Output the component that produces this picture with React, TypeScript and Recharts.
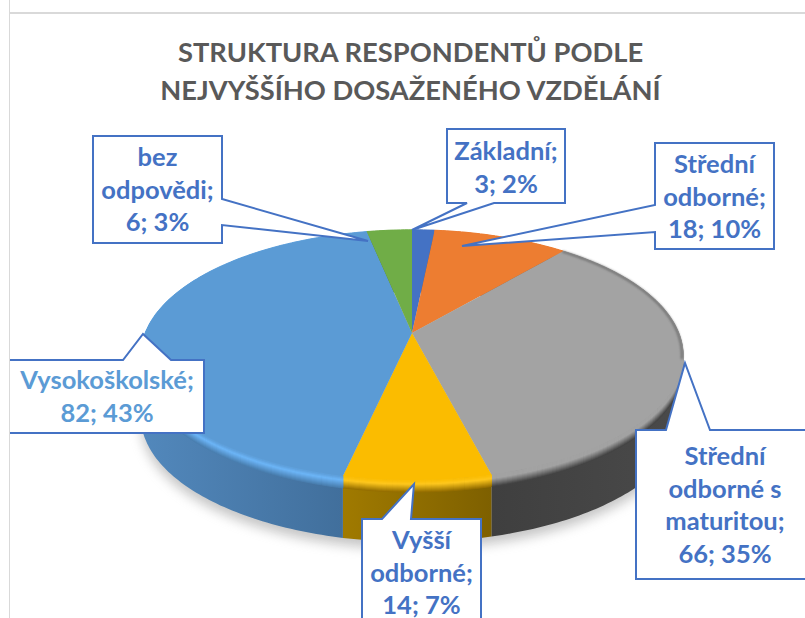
import React from 'react';
import { PieChart, Pie } from 'recharts';

const categories = ['Základní', 'Střední odborné', 'Střední odborné s maturitou', 'Vyšší odborné', 'Vysokoškolské', 'bez odpovědi'];
const values = [3, 18, 66, 14, 82, 6];
const percents = [2, 10, 35, 7, 43, 3];
const labelLines = [
  ['Základní;'],
  ['Střední', 'odborné;'],
  ['Střední', 'odborné s', 'maturitou;'],
  ['Vyšší', 'odborné;'],
  ['Vysokoškolské;'],
  ['bez', 'odpovědi;'],
];
const titleLines = ['STRUKTURA RESPONDENTŮ PODLE', 'NEJVYŠŠÍHO DOSAŽENÉHO VZDĚLÁNÍ'];

const faceColors = ['#4472C4', '#ED7D31', '#A3A3A3', '#FBBC00', '#5B9BD5', '#70AD47'];
const rimColors = ['#4472C4', '#ED7D31', '#A3A3A3', '#FFC81E', '#6DB6F8', '#70AD47'];
const wallColors = ['#2F5597', '#A5561F', '#444444', '#966F00', '#4A7FB0', '#4E7A30'];
const wallLeft = ['#2F5597', '#A5561F', '#3F3F3F', '#A07A00', '#5288BC', '#4E7A30'];
const wallRight = ['#2F5597', '#A5561F', '#4A4A4A', '#7E6000', '#3F6C98', '#4E7A30'];

// callout boxes: x, y, w, h, then the pointer as base a, tip, base b
const callouts = [
  { x: 447, y: 129, w: 118, h: 74, a: [494, 203], tip: [412, 230], b: [467, 203], first: 152 },
  { x: 655, y: 143, w: 119, h: 106, a: [655, 232], tip: [462, 246], b: [655, 205], first: 165 },
  { x: 636, y: 430, w: 190, h: 149, a: [666, 430], tip: [685, 363], b: [710, 430], first: 457, textX: 725 },
  { x: 362, y: 519, w: 119, h: 130, a: [382, 519], tip: [414, 484], b: [411, 519], first: 541 },
  { x: 0, y: 360, w: 204, h: 73, a: [123, 360], tip: [143, 334], b: [171, 360], first: 381, textX: 107 },
  { x: 93, y: 136, w: 129, h: 107, a: [222, 199], tip: [368, 241], b: [222, 225], first: 158 },
];

const K = 0.176; // perspective of the tilted disc
const SQUASH = 0.454;
const DEPTH = 62;
const BEVEL = 12;

const rows = categories.map((name, i) => ({ name, value: values[i], fill: faceColors[i] }));
const shadowRows = [{ name: 'shadow', value: values.reduce((a, b) => a + b, 0) }];

const project = (p: any, deg: number, dy = 0, f = 1) => {
  const rad = (deg * Math.PI) / 180;
  const u = Math.cos(rad) * f;
  const v = Math.sin(rad) * f;
  const d = 1 + K * v;
  return [p.cx + (p.outerRadius * u) / d, p.cy - (p.outerRadius * SQUASH * v) / d + dy];
};

const arc = (p: any, dy = 0, f = 1) => {
  const steps = Math.max(2, Math.ceil(Math.abs(p.endAngle - p.startAngle)));
  const pts = [];
  for (let i = 0; i <= steps; i++) {
    pts.push(project(p, p.startAngle + ((p.endAngle - p.startAngle) * i) / steps, dy, f));
  }
  return pts;
};

const toPath = (pts: number[][]) => 'M' + pts.map(q => `${q[0].toFixed(1)},${q[1].toFixed(1)}`).join('L') + 'Z';
const toLine = (pts: number[][]) => 'M' + pts.map(q => `${q[0].toFixed(1)},${q[1].toFixed(1)}`).join('L');

const hex = (c: string) => [1, 3, 5].map(i => parseInt(c.slice(i, i + 2), 16));
const mix = (a: string, b: string, t: number) => {
  const x = hex(a);
  const y = hex(b);
  return `rgb(${x.map((v, i) => Math.round(v + (y[i] - v) * t)).join(',')})`;
};

const FaceShape = (p: any) => {
  const i = categories.indexOf(p.name);
  // the grey slice darkens softly along its back right edge only
  const back = { ...p, endAngle: Math.max(p.endAngle, -12) };
  return (
    <g>
      <path d={toPath([[p.cx, p.cy], ...arc(p)])} fill={p.fill} />
      {i === 2 && <path d={toLine(arc(back, 0, 0.996))} fill="none" stroke="#4a4a4a" strokeWidth={2} opacity={0.6} filter="url(#softRim)" />}
    </g>
  );
};

const WallShape = (p: any) => {
  const i = categories.indexOf(p.name);
  return <path d={toPath([...arc(p), ...arc(p, DEPTH).reverse()])} fill={`url(#wall${i})`} />;
};

const BevelShape = (p: any) => {
  const i = categories.indexOf(p.name);
  const strips = [];
  for (let s = BEVEL; s > 0; s--) {
    const t = s / BEVEL;
    const color = t < 0.35 ? mix(faceColors[i], rimColors[i], t / 0.35) : mix(rimColors[i], wallColors[i], (t - 0.35) / 0.65);
    strips.push(<path key={s} d={toPath([...arc(p, s - 1.2), ...arc(p, s).reverse()])} fill={color} stroke={color} strokeWidth={1} />);
  }
  return <g>{strips}</g>;
};

const ShadowShape = (p: any) => <path d={toPath(arc(p, DEPTH + 7))} fill="#8c8c8c" opacity={0.5} filter="url(#softShadow)" />;

const Callout = (p: any) => {
  const i = p.index;
  const c = callouts[i];
  const r = c.x + c.w;
  const bottom = c.y + c.h;
  let pts: number[][];
  if (c.a[1] === c.y) pts = [[c.x, c.y], c.a, c.tip, c.b, [r, c.y], [r, bottom], [c.x, bottom]];
  else if (c.a[1] === bottom) pts = [[c.x, c.y], [r, c.y], [r, bottom], c.a, c.tip, c.b, [c.x, bottom]];
  else if (c.a[0] === r) pts = [[c.x, c.y], [r, c.y], c.a, c.tip, c.b, [r, bottom], [c.x, bottom]];
  else pts = [[c.x, c.y], [r, c.y], [r, bottom], [c.x, bottom], c.a, c.tip, c.b];
  const lines = [...labelLines[i], `${values[i]}; ${percents[i]}%`];
  const color = i === 4 ? '#5B9BD5' : '#4472C4';
  const tx = c.textX ?? c.x + c.w / 2;
  return (
    <g>
      <path d={toPath(pts)} fill="#fff" stroke="#4472C4" strokeWidth={2} />
      {lines.map((line, n) => (
        <text key={n} x={tx} y={c.first + n * 32.5 + 8} textAnchor="middle" fill={color} fontFamily="Lato" fontWeight={700} fontSize={25.5}>
          {line}
        </text>
      ))}
    </g>
  );
};

const App: React.FC = () => {
  return (
    <div style={{ position: 'absolute', left: 0, top: 0, width: 805, height: 618, overflow: 'hidden', background: '#fff' }}>
      <div style={{ position: 'absolute', left: 9, top: 12, width: 900, height: 700, borderTop: '2px solid #d9d9d9' }} />
      <div style={{ position: 'absolute', left: 0, top: 33, width: 821, textAlign: 'center', fontFamily: 'Lato', fontWeight: 700, fontSize: 27.3, lineHeight: '37.5px', color: '#595959' }}>
        {titleLines.map(line => (
          <div key={line}>{line}</div>
        ))}
      </div>
      <div style={{ position: 'absolute', left: 0, top: 0 }}>
        <PieChart width={805} height={618} margin={{ top: 0, right: 0, bottom: 0, left: 0 }}>
          <defs>
            <filter id="softShadow" x="-10%" y="-10%" width="120%" height="120%">
              <feGaussianBlur stdDeviation="6" />
            </filter>
            <filter id="softRim" x="-10%" y="-10%" width="120%" height="120%">
              <feGaussianBlur stdDeviation="1.2" />
            </filter>
            {wallColors.map((c, i) => (
              <linearGradient key={c} id={`wall${i}`} x1="0" y1="0" x2="1" y2="0">
                <stop offset="0%" stopColor={wallLeft[i]} />
                <stop offset="100%" stopColor={wallRight[i]} />
              </linearGradient>
            ))}
          </defs>
          <Pie data={shadowRows} dataKey="value" cx={412} cy={333} outerRadius={266.8} startAngle={90} endAngle={-270} stroke="none" shape={ShadowShape} isAnimationActive={false} />
          <Pie data={rows} dataKey="value" nameKey="name" cx={412} cy={333} outerRadius={266.8} startAngle={90} endAngle={-270} stroke="none" shape={WallShape} isAnimationActive={false} />
          <Pie data={rows} dataKey="value" nameKey="name" cx={412} cy={333} outerRadius={266.8} startAngle={90} endAngle={-270} stroke="none" shape={BevelShape} isAnimationActive={false} />
          <Pie data={rows} dataKey="value" nameKey="name" cx={412} cy={333} outerRadius={266.8} startAngle={90} endAngle={-270} stroke="none" shape={FaceShape} label={Callout} labelLine={false} isAnimationActive={false} />
        </PieChart>
      </div>
      {/* page margin left of the chart frame */}
      <div style={{ position: 'absolute', left: 0, top: 0, width: 9, height: 618, background: '#fff', borderRight: '1px solid #d9d9d9' }} />
    </div>
  );
};

export default App;
